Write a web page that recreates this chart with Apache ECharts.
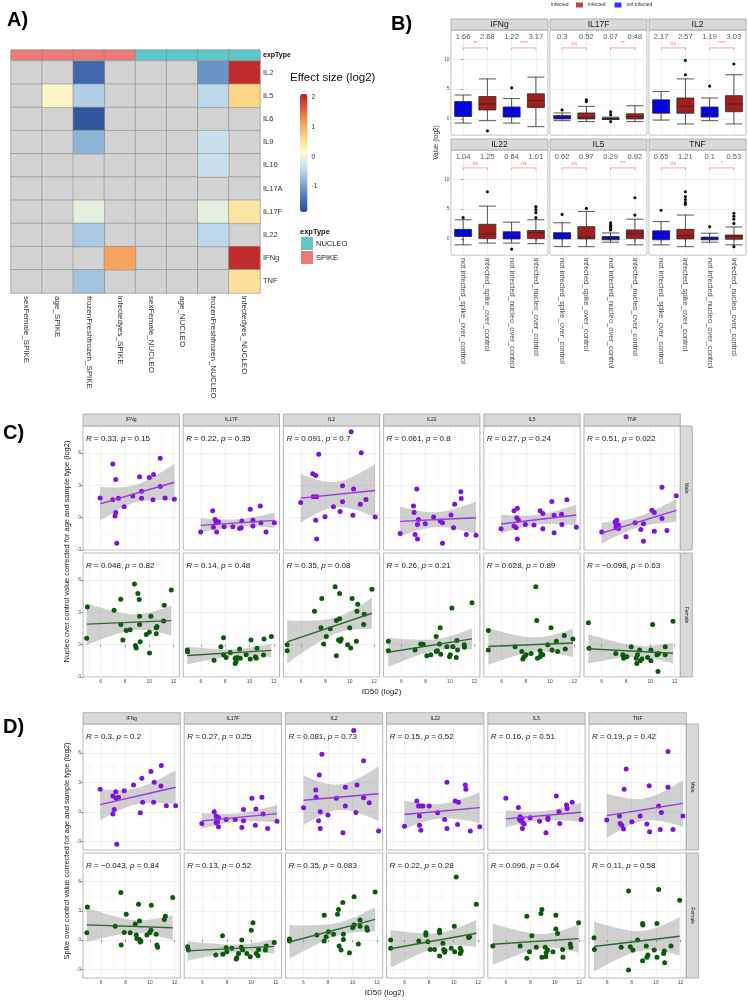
<!DOCTYPE html>
<html>
<head>
<meta charset="utf-8">
<script src="https://cdn.jsdelivr.net/npm/echarts@6.0.0/dist/echarts.min.js"></script>
<style>html,body{margin:0;padding:0;background:#fff;}#chart{width:748px;height:1000px;}</style>
</head>
<body>
<div id="chart"></div>
<script>
// ================= DATA =================
// ---- Panel A: effect sizes (log2); null = not significant (grey) ----
const heatRows = ['IL2','IL5','IL6','IL9','IL10','IL17A','IL17F','IL22','IFNg','TNF'];
const heatCols = ['sexFemale_SPIKE','age_SPIKE','frozenFreshfrozen_SPIKE','infectedyes_SPIKE','sexFemale_NUCLEO','age_NUCLEO','frozenFreshfrozen_NUCLEO','infectedyes_NUCLEO'];
const colTypes = ['SPIKE','SPIKE','SPIKE','SPIKE','NUCLEO','NUCLEO','NUCLEO','NUCLEO'];
const effIL2   = [null,null,-1.55,null,null,null,-1.1,2.0];
const effIL5   = [null,0.2,-0.55,null,null,null,-0.45,0.65];
const effIL6   = [null,null,-1.75,null,null,null,null,null];
const effIL9   = [null,null,-0.8,null,null,null,-0.35,null];
const effIL10  = [null,null,null,null,null,null,-0.35,null];
const effIL17A = [null,null,null,null,null,null,null,null];
const effIL17F = [null,null,-0.1,null,null,null,-0.1,0.45];
const effIL22  = [null,null,-0.6,null,null,null,-0.45,null];
const effIFNg  = [null,null,null,1.1,null,null,null,2.0];
const effTNF   = [null,null,-0.65,null,null,null,null,0.5];
const effectRows = [effIL2,effIL5,effIL6,effIL9,effIL10,effIL17A,effIL17F,effIL22,effIFNg,effTNF];
const colorbarTicks = [2,1,0,-1];

// ---- Panel B: boxplots [min, Q1, median, Q3, max] ----
const bCyto = ['IFNg','IL17F','IL2','IL22','IL5','TNF'];
const boxGroups = ['not infected_spike_over_control','infected_spike_over_control','not infected_nucleo_over_control','infected_nucleo_over_control'];
const groupStatus = ['not infected','infected','not infected','infected'];
const bYTicks = [0,5,10];
const boxIFNg  = [[-0.7,0.4,1.35,2.9,4.0],[-0.3,1.5,2.5,3.75,6.7],[-0.7,0.3,0.85,2.0,3.4],[-1.3,1.9,3.1,4.2,7.0]];
const boxIL17F = [[-0.3,0.0,0.3,0.55,1.0],[-0.45,0.0,0.25,1.0,2.1],[-0.1,-0.05,0.05,0.15,0.3],[-0.45,0.0,0.4,0.85,2.2]];
const boxIL2   = [[-0.2,0.95,2.35,3.2,4.6],[-0.85,0.95,2.1,3.5,6.7],[-0.3,0.3,0.95,2.0,3.5],[-0.85,1.2,2.5,3.9,7.4]];
const boxIL22  = [[-1.0,0.4,0.95,1.6,3.2],[-0.7,0.05,0.8,2.45,5.5],[-0.7,0.0,0.8,1.2,2.8],[-0.8,0.05,1.05,1.4,3.2]];
const boxIL5   = [[-1.3,0.0,0.55,1.05,2.7],[-1.3,0.0,0.3,2.05,4.6],[-0.55,-0.15,0.1,0.4,1.0],[-1.0,0.05,0.85,1.5,3.3]];
const boxTNF   = [[-1.0,-0.15,0.55,1.35,2.9],[-1.3,0.0,0.55,1.6,4.0],[-0.55,-0.15,0.0,0.3,0.95],[-1.0,-0.05,0.4,0.65,2.0]];
const outIFNg  = [[1,-2.0],[2,5.2]];
const outIL17F = [[0,1.5],[1,3.2],[1,2.9],[2,1.2],[2,0.7],[2,-0.45]];
const outIL2   = [[1,7.4],[1,9.8],[2,5.5],[3,9.2]];
const outIL22  = [[0,3.55],[1,7.9],[2,-1.7],[3,3.55],[3,4.4],[3,4.9],[3,5.4]];
const outIL5   = [[0,4.1],[1,5.1],[2,1.5],[2,1.8],[2,2.05],[2,2.3],[2,2.7],[3,4.0],[3,6.9]];
const outTNF   = [[0,4.8],[1,5.8],[1,6.1],[1,6.6],[1,7.1],[1,7.9],[2,2.05],[3,2.6],[3,3.3],[3,3.8],[3,4.3],[3,-1.3]];
const meanIFNg = [1.66,2.68,1.22,3.17];
const meanIL17F= [0.3,0.52,0.07,0.48];
const meanIL2  = [2.17,2.57,1.19,3.03];
const meanIL22 = [1.04,1.25,0.64,1.01];
const meanIL5  = [0.62,0.97,0.29,0.92];
const meanTNF  = [0.65,1.21,0.1,0.53];
const sigIFNg = ['**','****'], sigIL17F = ['ns','**'], sigIL2 = ['ns','****'];
const sigIL22 = ['ns','ns'], sigIL5 = ['ns','***'], sigTNF = ['ns','*'];

// ---- Panels C / D: [ID50 (log2), value] ----
const facetCyto = ['IFNg','IL17F','IL2','IL22','IL5','TNF'];
const facetXTicks = [6,8,10,12];
const facetYTicks = [-3,0,3,6];
const cIFNgM = [[5.95,1.83],[6.99,1.67],[6.99,4.98],[7.24,3.53],[7.24,0.47],[7.18,0.16],[7.46,1.8],[7.32,-2.37],[7.93,1.0],[8.64,2.0],[9.2,3.79],[9.36,2.46],[9.36,1.8],[10.0,3.72],[10.3,1.67],[10.35,4.0],[10.9,5.5],[10.9,2.9],[11.3,1.83],[12.06,1.7]];
const cIL17FM = [[5.98,-1.34],[6.97,0.63],[7.16,-0.16],[7.25,-0.47],[7.03,-0.88],[7.3,-1.34],[7.44,-0.38],[7.91,-0.84],[8.63,-0.84],[9.18,-1.0],[9.32,-0.94],[9.37,-0.31],[10.06,0.78],[10.28,-0.25],[10.28,-0.78],[10.89,1.09],[10.94,-0.47],[11.36,-1.34],[12.05,-0.47]];
const cIL2M = [[5.96,1.41],[6.95,4.06],[7.2,3.9],[7.0,1.94],[7.28,1.94],[7.45,5.88],[7.2,-0.25],[7.28,-1.97],[7.97,0.09],[8.66,1.0],[9.21,0.56],[9.41,2.97],[9.41,1.47],[10.12,7.97],[10.26,0.22],[10.32,2.66],[10.87,1.25],[10.95,6.03],[11.34,1.69],[12.1,0.06]];
const cIL22M = [[5.9,-1.47],[7.0,1.09],[7.05,0.47],[7.27,2.66],[7.13,-1.56],[7.33,-1.97],[7.41,-0.16],[7.33,-0.63],[7.97,-0.56],[8.66,0.06],[9.2,-0.31],[9.39,-0.47],[9.39,-2.38],[10.09,0.25],[10.3,-0.94],[10.39,1.25],[10.9,2.41],[10.93,1.78],[11.35,-1.56],[12.15,-1.63]];
const cIL5M = [[5.96,-1.03],[7.03,0.63],[7.3,0.88],[7.25,0.0],[7.39,-0.22],[7.03,-0.78],[7.2,-0.94],[7.3,-1.97],[7.96,-0.63],[8.67,-0.69],[9.18,0.63],[9.4,0.38],[9.4,-1.03],[10.14,1.5],[10.33,-1.41],[10.33,0.22],[10.94,0.31],[10.97,-0.63],[11.38,1.66],[12.16,-0.88]];
const cTNFM = [[6.0,-1.34],[7.1,-0.38],[7.24,-0.25],[7.18,-0.69],[7.29,-0.88],[7.38,-0.69],[7.38,-1.0],[7.18,-0.94],[8.0,-1.78],[8.75,-0.47],[9.22,-1.09],[9.44,-0.56],[9.44,-2.19],[10.13,0.69],[10.33,-1.25],[10.33,0.47],[10.96,2.81],[10.96,-0.09],[11.37,-1.19],[12.14,2.03]];
const cIFNgF = [[4.9,3.5],[4.84,0.59],[7.1,3.19],[7.65,4.22],[7.65,1.88],[7.82,0.44],[8.1,1.31],[8.42,1.38],[8.78,5.63],[8.86,-0.09],[8.92,-0.31],[9.06,4.75],[9.17,4.19],[9.2,2.63],[9.2,1.88],[9.25,0.28],[9.75,0.94],[10.0,1.16],[10.02,-0.78],[10.13,2.63],[10.57,1.56],[10.57,1.0],[10.63,1.69],[11.18,2.19],[11.23,3.66],[11.81,5.06]];
const cIL17FF = [[4.88,-0.5],[4.9,-0.66],[7.08,-1.44],[7.64,-0.19],[7.86,0.63],[7.86,-0.94],[8.07,-1.19],[8.41,-0.72],[8.82,-1.25],[8.82,-1.75],[8.9,-1.56],[9.01,-1.19],[9.18,-0.41],[9.24,-1.25],[9.73,-0.94],[10.06,-1.34],[10.12,0.44],[10.48,-1.13],[10.61,-0.34],[10.56,-1.25],[11.16,-0.97],[11.2,0.53],[11.8,0.75]];
const cIL2F = [[4.85,0.0],[4.85,-0.56],[7.1,3.1],[7.7,4.28],[7.63,1.56],[7.85,0.06],[8.07,0.75],[8.4,1.47],[8.8,5.38],[8.9,2.25],[9.17,4.75],[9.17,2.4],[9.08,0.44],[9.22,0.31],[9.3,0.53],[8.9,-1.03],[9.83,0.0],[10.0,1.56],[10.08,-0.31],[10.2,4.28],[10.55,0.31],[10.6,3.09],[10.66,3.75],[11.15,1.88],[11.2,2.81],[11.83,5.13]];
const cIL22F = [[4.93,0.31],[4.93,-0.56],[7.13,-0.5],[7.6,0.06],[7.75,0.0],[7.8,0.03],[8.1,-1.03],[8.43,-0.94],[8.87,0.75],[8.87,-0.63],[8.97,-0.56],[9.14,0.06],[9.2,1.56],[9.25,-0.88],[9.75,-0.19],[9.97,-1.13],[10.03,-0.94],[10.16,3.41],[10.25,-0.19],[10.52,-1.19],[10.58,0.38],[10.63,-0.5],[11.18,0.0],[11.2,-0.25],[11.82,3.88]];
const cIL5F = [[4.91,1.31],[4.91,-0.5],[7.12,-0.19],[7.67,-0.63],[7.75,-1.34],[7.86,-1.13],[8.02,-0.94],[8.43,-0.81],[8.82,5.38],[8.9,2.25],[8.96,-1.25],[9.18,-0.56],[9.18,-1.13],[9.26,-0.88],[9.4,-0.94],[9.8,0.0],[10.07,1.56],[10.16,-0.5],[10.51,0.31],[10.62,-0.63],[11.17,0.84],[11.25,-0.41],[11.88,0.53]];
const cTNFF = [[4.9,2.03],[4.95,-0.34],[7.16,-0.81],[7.74,-0.94],[7.8,-1.25],[8.07,-1.13],[8.43,-0.19],[8.84,-1.25],[8.89,-1.75],[8.95,-0.94],[9.12,-0.5],[9.17,-1.5],[9.31,-1.34],[9.78,-1.19],[10.05,-0.5],[10.05,-1.5],[10.19,1.88],[10.55,-0.94],[10.63,-2.5],[10.68,-0.81],[11.23,-0.19],[11.23,-0.94],[11.87,2.16]];
const dIFNgM = [[5.92,2.29],[6.96,1.6],[7.07,0.24],[6.96,-0.24],[7.2,2.05],[7.23,1.37],[7.42,1.47],[7.28,-3.31],[7.89,2.15],[8.65,2.73],[9.33,3.41],[9.39,0.96],[9.2,-0.1],[10.07,4.1],[10.34,3.0],[10.29,0.96],[10.92,4.71],[10.89,2.63],[11.33,0.61],[12.09,0.61]];
const dIL17FM = [[5.96,-1.19],[6.97,0.0],[7.13,-0.44],[7.19,-0.78],[7.24,-1.02],[7.32,-1.54],[7.13,-1.13],[7.32,-0.58],[7.95,-0.78],[8.69,-0.78],[9.23,-1.6],[9.37,0.24],[9.37,-0.92],[10.05,1.37],[10.33,-1.37],[10.38,0.27],[10.87,1.47],[10.96,-0.24],[11.34,-1.71],[12.1,-0.96]];
const dIL2M = [[6.0,0.41],[7.0,2.22],[7.03,1.47],[7.29,3.75],[7.37,0.0],[7.23,-0.92],[7.37,-1.71],[7.5,5.87],[8.0,-0.34],[8.68,1.37],[9.22,-2.15],[9.42,2.49],[9.42,0.58],[10.1,8.29],[10.28,-0.07],[10.37,2.73],[10.91,5.19],[10.91,1.43],[11.37,0.92],[12.13,-1.95]];
const dIL22M = [[5.98,-1.47],[6.99,1.09],[7.13,0.58],[7.2,-0.44],[7.26,0.58],[7.48,0.58],[7.2,-1.37],[7.32,-1.88],[8.0,0.58],[8.69,-0.1],[9.26,-0.78],[9.45,3.0],[9.45,-1.71],[10.13,1.09],[10.32,-1.3],[10.4,0.96],[10.95,2.73],[11.0,2.29],[11.36,-1.95],[12.13,-1.54]];
const dIL5M = [[5.99,1.37],[7.02,0.44],[7.1,-0.78],[7.16,-0.51],[7.21,-0.92],[7.3,-0.68],[7.35,-1.71],[7.49,-1.26],[7.38,-1.13],[7.98,-0.61],[8.75,-0.96],[9.27,-2.15],[9.43,-0.78],[9.43,-0.61],[10.12,1.6],[10.34,0.0],[10.4,-1.19],[10.95,0.68],[11.0,0.34],[11.41,0.96],[12.15,-0.78]];
const dTNFM = [[5.97,-0.85],[7.01,-0.44],[7.07,-1.19],[7.2,-1.37],[7.34,-1.77],[7.39,2.29],[7.56,4.37],[8.02,-1.02],[8.7,-0.44],[9.25,-1.26],[9.44,2.66],[9.47,-2.05],[10.21,0.58],[10.34,-1.81],[10.43,-0.07],[10.97,6.14],[10.97,2.49],[11.38,-1.81],[12.2,-0.44]];
const dIFNgF = [[4.88,3.41],[4.83,0.75],[7.15,1.43],[7.61,4.88],[7.64,-0.51],[7.89,0.78],[8.05,2.66],[8.38,0.75],[8.79,1.64],[8.87,0.51],[8.92,0.17],[9.06,3.69],[9.14,1.95],[9.14,0.07],[9.25,-0.1],[9.2,-0.2],[9.74,0.51],[9.96,0.75],[10.1,3.58],[10.07,1.02],[10.5,0.61],[10.56,-0.51],[10.62,-0.75],[11.16,2.12],[11.25,2.46],[11.85,4.37]];
const dIL17FF = [[4.8,-0.68],[4.86,-1.02],[7.1,-1.54],[7.65,0.44],[7.68,-1.47],[7.95,-0.78],[8.0,-1.19],[8.41,-0.85],[8.77,-1.95],[8.82,-1.81],[8.96,-1.37],[9.18,-0.75],[9.23,0.0],[9.29,-1.02],[9.64,-1.37],[9.92,-1.71],[10.0,1.02],[10.14,1.77],[10.41,-1.37],[10.55,-1.6],[10.6,-0.96],[11.15,-1.02],[11.23,-0.61],[11.88,-0.24]];
const dIL2F = [[4.85,0.1],[4.85,-0.1],[7.09,0.51],[7.69,2.56],[7.69,-0.1],[7.85,0.34],[8.04,0.85],[8.45,0.61],[8.78,2.66],[8.86,3.14],[8.91,-0.61],[9.07,-1.02],[9.21,3.86],[9.26,0.61],[9.26,0.07],[9.75,-1.3],[10.02,1.26],[10.13,4.44],[10.13,1.54],[10.48,-0.41],[10.62,1.43],[10.62,2.05],[11.17,1.3],[11.22,1.02],[11.85,4.95]];
const dIL22F = [[4.85,0.0],[4.85,-0.85],[7.15,-0.1],[7.73,0.75],[7.73,0.51],[7.89,-0.17],[8.08,-0.96],[8.44,-0.96],[8.85,1.02],[8.85,0.75],[8.85,-1.64],[9.12,-0.34],[9.18,-0.96],[9.26,-1.26],[9.3,-1.1],[9.8,-0.85],[10.05,1.43],[10.08,-1.19],[10.21,6.48],[10.54,-0.85],[10.54,-1.37],[10.62,-1.13],[11.22,0.27],[11.3,0.34],[11.85,3.69]];
const dIL5F = [[4.93,-0.61],[7.16,-0.61],[7.71,2.46],[7.71,-1.88],[7.93,-1.19],[8.12,0.44],[8.48,-0.75],[8.86,2.73],[8.94,3.14],[8.94,-1.77],[9.21,-0.75],[9.29,-1.3],[9.26,-1.71],[9.4,-1.02],[9.84,-1.19],[10.08,2.56],[10.08,1.13],[10.22,0.68],[10.63,-0.96],[10.66,-1.77],[11.26,-0.41],[11.31,-0.75],[11.94,1.77]];
const dTNFF = [[4.93,0.24],[4.96,-0.96],[7.15,-0.75],[7.75,5.05],[7.75,-3.07],[7.89,-0.68],[8.1,-1.02],[8.49,0.0],[8.9,1.71],[8.92,1.54],[8.9,-2.12],[9.2,-0.61],[9.25,-1.77],[9.33,-1.54],[9.85,-1.02],[10.07,1.71],[10.07,-1.77],[10.21,5.19],[10.62,-1.37],[10.67,-1.13],[10.7,-2.32],[11.22,-0.61],[11.93,4.1]];
const cRM = ['0.33','0.22','0.091','0.061','0.27','0.51'], cPM = ['0.15','0.35','0.7','0.8','0.24','0.022'];
const cRF = ['0.048','0.14','0.35','0.26','0.028','\u22120.098'], cPF = ['0.82','0.48','0.08','0.21','0.89','0.63'];
const dRM = ['0.3','0.27','0.081','0.15','0.16','0.19'], dPM = ['0.2','0.25','0.73','0.52','0.51','0.42'];
const dRF = ['\u22120.043','0.13','0.35','0.22','0.096','0.11'], dPF = ['0.84','0.52','0.083','0.28','0.64','0.58'];

// ================= BUILD =================
const FONT = '"Liberation Sans", Arial, Helvetica, sans-serif';
const grids = [], xAxes = [], yAxes = [], series = [], graphics = [];
function addText(x, y, text, st, rot) {
  const el = {type:'text', x:x, y:y, silent:true, z:10,
    style:Object.assign({text:text, fill:'#1a1a1a', fontSize:8, fontFamily:FONT, align:'left', verticalAlign:'middle'}, st || {})};
  if (rot) el.rotation = rot;
  graphics.push(el);
}
function addRect(x, y, w, h, fill, stroke) {
  graphics.push({type:'rect', silent:true, z:5, shape:{x:x, y:y, width:w, height:h},
    style:{fill:fill, stroke:stroke || null, lineWidth:stroke ? 0.8 : 0}});
}
const GRIDLINE = {show:true, lineStyle:{color:'#ebebeb', width:0.7}};
const MINORLINE = {show:true, lineStyle:{color:'#f3f3f3', width:0.5}};
const BORDER = '#a3a3a3';

// ---------- Panel A ----------
const aLeft = 11, aTop = 61, aW = 249, aH = 232, annTop = 50, annH = 10;
const typeColor = {SPIKE:'#ec7a76', NUCLEO:'#5ec7ca'};
grids.push({left:aLeft, top:annTop, width:aW, height:annH, outerBoundsMode:'none'});
xAxes.push({type:'category', gridIndex:0, data:heatCols, show:false});
yAxes.push({type:'category', gridIndex:0, data:['expType'], position:'right', axisLine:{show:false}, axisTick:{show:false}, splitLine:{show:false},
  axisLabel:{fontSize:7, fontWeight:'bold', color:'#111', margin:3, fontFamily:FONT}});
['SPIKE','NUCLEO'].forEach(function (t) {
  series.push({type:'heatmap', xAxisIndex:0, yAxisIndex:0, silent:true,
    data: colTypes.map(function (ct, i) { return ct === t ? [i, 0, 1] : null; }).filter(function (d) { return d; }),
    itemStyle:{color:typeColor[t], borderColor:'#8a8a8a', borderWidth:0.6}});
});
grids.push({left:aLeft, top:aTop, width:aW, height:aH, outerBoundsMode:'none'});
xAxes.push({type:'category', gridIndex:1, data:heatCols, position:'bottom', axisLine:{show:false}, axisTick:{show:false}, splitLine:{show:false},
  axisLabel:{rotate:-90, fontSize:8, color:'#333', margin:3, fontFamily:FONT}});
yAxes.push({type:'category', gridIndex:1, data:heatRows, inverse:true, position:'right', axisLine:{show:false}, axisTick:{show:false}, splitLine:{show:false},
  axisLabel:{fontSize:7.5, color:'#333', margin:3, fontFamily:FONT}});
const naCells = [], valCells = [];
effectRows.forEach(function (row, r) { row.forEach(function (v, c) { if (v === null) naCells.push([c, r, 0]); else valCells.push([c, r, v]); }); });
series.push({type:'heatmap', xAxisIndex:1, yAxisIndex:1, silent:true, data:naCells, itemStyle:{color:'#d3d3d3', borderColor:'#8a8a8a', borderWidth:0.6}});
const heatSeriesIndex = series.length;
series.push({type:'heatmap', xAxisIndex:1, yAxisIndex:1, silent:true, data:valCells, itemStyle:{borderColor:'#8a8a8a', borderWidth:0.6}});
const cbMin = -1.85, cbMax = 2.1, cbLeft = 300, cbTop = 94, cbH = 118, cbW = 7.5;
colorbarTicks.forEach(function (v) {
  addText(cbLeft + cbW + 4, cbTop + (cbMax - v) / (cbMax - cbMin) * cbH, String(v), {fontSize:6.5, fill:'#333'});
});
addText(290, 78, 'Effect size (log2)', {fontSize:11.5, fill:'#111'});
addText(300, 232, 'expType', {fontSize:7.5, fontWeight:'bold', fill:'#111'});
addRect(301, 237, 12, 13, typeColor.NUCLEO);
addRect(301, 251, 12, 13, typeColor.SPIKE);
addText(316, 244, 'NUCLEO', {fontSize:7.5, fill:'#222'});
addText(316, 257.5, 'SPIKE', {fontSize:7.5, fill:'#222'});
addText(7, 20, 'A)', {fontSize:20, fontWeight:'bold', fill:'#000'});

// ---------- Panel B ----------
const bBoxes = [boxIFNg, boxIL17F, boxIL2, boxIL22, boxIL5, boxTNF];
const bOut = [outIFNg, outIL17F, outIL2, outIL22, outIL5, outTNF];
const bMeans = [meanIFNg, meanIL17F, meanIL2, meanIL22, meanIL5, meanTNF];
const bSig = [sigIFNg, sigIL17F, sigIL2, sigIL22, sigIL5, sigTNF];
const statusColor = {'infected':'#a31d1d', 'not infected':'#0000fa'};
const bLefts = [451, 550, 649], bTops = [30, 150], bW = 97, bH = 105, bStripH = 11;
const bYmin = -2.7, bYmax = 14.9, bMeanY = 13.8, bBrY = 11.9, bBrTick = 0.35, bSigY = 12.7;
let bFirstX = null, bFirstY = null;
for (let k = 0; k < 6; k++) {
  const col = k % 3, row = Math.floor(k / 3), left = bLefts[col], top = bTops[row];
  grids.push({left:left, top:top, width:bW, height:bH, show:true, borderColor:BORDER, borderWidth:0.8, backgroundColor:'#fff', outerBoundsMode:'none'});
  const g = grids.length - 1;
  xAxes.push({type:'category', gridIndex:g, data:boxGroups, axisLine:{show:false},
    axisTick:{show:row === 1, alignWithLabel:true, length:2, lineStyle:{color:'#444', width:0.6}},
    axisLabel:{show:row === 1, rotate:-90, fontSize:7.5, color:'#4d4d4d', margin:3, fontFamily:FONT}, splitLine:{show:false}});
  const xc = xAxes.length - 1;
  xAxes.push({type:'value', gridIndex:g, min:-0.5, max:3.5, position:'top', axisLine:{show:false}, axisTick:{show:false}, axisLabel:{show:false}, splitLine:GRIDLINE});
  const xv = xAxes.length - 1;
  yAxes.push({type:'value', gridIndex:g, min:bYmin, max:bYmax, splitNumber:3, axisLine:{show:false},
    axisTick:{show:col === 0, length:2, customValues:bYTicks, lineStyle:{color:'#444', width:0.6}},
    axisLabel:{show:col === 0, fontSize:5, color:'#4d4d4d', margin:1.5, fontFamily:FONT, customValues:bYTicks,
      formatter:function (v) { return Math.abs(v % 5) < 1e-9 ? String(v) : ''; }},
    splitLine:GRIDLINE, minorTick:{show:false, splitNumber:2}, minorSplitLine:MINORLINE});
  const yi = yAxes.length - 1;
  if (k === 0) { bFirstX = xc; bFirstY = yi; }
  series.push({type:'boxplot', xAxisIndex:xc, yAxisIndex:yi, silent:true, boxWidth:[17, 17],
    itemStyle:{borderColor:'#333', borderWidth:0.8},
    data: bBoxes[k].map(function (b, i) { return {value:b, itemStyle:{color:statusColor[groupStatus[i]], borderColor:'#2a2a2a', borderWidth:0.8}}; })});
  series.push({type:'scatter', xAxisIndex:xc, yAxisIndex:yi, silent:true, symbolSize:3.2, itemStyle:{color:'#111', opacity:1}, data:bOut[k]});
  series.push({type:'scatter', xAxisIndex:xc, yAxisIndex:yi, silent:true, symbolSize:0,
    data: bMeans[k].map(function (m, i) { return [i, bMeanY]; }),
    label:{show:true, position:'inside', fontSize:7.5, color:'#333', fontFamily:FONT,
      formatter:(function (arr) { return function (p) { return String(arr[p.dataIndex]); }; })(bMeans[k])}});
  [[0, 1], [2, 3]].forEach(function (pr) {
    series.push({type:'line', xAxisIndex:xv, yAxisIndex:yi, silent:true, symbol:'none',
      data:[[pr[0], bBrY - bBrTick], [pr[0], bBrY], [pr[1], bBrY], [pr[1], bBrY - bBrTick]],
      lineStyle:{color:'#f08585', width:0.7}});
  });
  series.push({type:'scatter', xAxisIndex:xv, yAxisIndex:yi, silent:true, symbolSize:0,
    data:[[0.5, bSigY], [2.5, bSigY]],
    label:{show:true, position:'inside', fontSize:5, color:'#ea4b4b', fontFamily:FONT,
      formatter:(function (arr) { return function (p) { return arr[p.dataIndex]; }; })(bSig[k])}});
  addRect(left, top - bStripH, bW, bStripH, '#d9d9d9', BORDER);
  addText(left + bW / 2, top - bStripH / 2, bCyto[k], {fontSize:8.5, align:'center'});
}
series.push({type:'scatter', name:'infected', xAxisIndex:bFirstX, yAxisIndex:bFirstY, data:[], itemStyle:{color:statusColor['infected']}});
series.push({type:'scatter', name:'not infected', xAxisIndex:bFirstX, yAxisIndex:bFirstY, data:[], itemStyle:{color:statusColor['not infected']}});
addText(551, 5, 'infected', {fontSize:5, fill:'#333'});
addText(436, 142.5, 'Value (log2)', {fontSize:6.5, align:'center', fill:'#333'}, Math.PI / 2);
addText(391, 24, 'B)', {fontSize:20, fontWeight:'bold', fill:'#000'});

// ---------- Panels C & D ----------
function tq(df) { return 1.96 + 2.4 / df + 2.6 / (df * df); }
function lmFit(pts) {
  const N = pts.length; let mx = 0, my = 0;
  pts.forEach(function (p) { mx += p[0]; my += p[1]; }); mx /= N; my /= N;
  let sxx = 0, sxy = 0;
  pts.forEach(function (p) { sxx += (p[0] - mx) * (p[0] - mx); sxy += (p[0] - mx) * (p[1] - my); });
  const b = sxy / sxx, a = my - b * mx;
  let sse = 0; pts.forEach(function (p) { const e = p[1] - a - b * p[0]; sse += e * e; });
  const s = Math.sqrt(sse / (N - 2)), t = tq(N - 2);
  const xs = pts.map(function (p) { return p[0]; });
  const x0 = Math.min.apply(null, xs), x1 = Math.max.apply(null, xs);
  const upper = [], lower = [];
  for (let i = 0; i <= 60; i++) {
    const x = x0 + (x1 - x0) * i / 60, yh = a + b * x;
    const se = s * Math.sqrt(1 / N + (x - mx) * (x - mx) / sxx);
    upper.push([x, yh + t * se]); lower.push([x, yh - t * se]);
  }
  return {line:[[x0, a + b * x0], [x1, a + b * x1]], upper:upper, lower:lower};
}
const rowStyle = [{pt:'#8012de', ln:'#9b35e3'}, {pt:'#0c5a0c', ln:'#2d6a2d'}];
function buildFacets(P) {
  const rowNames = ['Male', 'Female'];
  for (let r = 0; r < 2; r++) {
    for (let c = 0; c < 6; c++) {
      const left = P.left0 + c * P.step, top = P.rows[r][0], h = P.rows[r][1];
      grids.push({left:left, top:top, width:P.w, height:h, show:true, borderColor:BORDER, borderWidth:0.8, backgroundColor:'#fff', outerBoundsMode:'none'});
      const g = grids.length - 1;
      xAxes.push({type:'value', gridIndex:g, min:P.xmin, max:P.xmax, splitNumber:5, axisLine:{show:false},
        axisTick:{show:r === 1, length:2, customValues:facetXTicks, lineStyle:{color:'#444', width:0.6}},
        axisLabel:{show:r === 1, fontSize:5, color:'#4d4d4d', margin:2, fontFamily:FONT, customValues:facetXTicks,
          formatter:function (v) { return (Math.abs(v - Math.round(v)) < 1e-9 && Math.round(v) % 2 === 0) ? String(v) : ''; }},
        splitLine:GRIDLINE, minorTick:{show:false, splitNumber:2}, minorSplitLine:MINORLINE});
      const xi = xAxes.length - 1;
      const ya = {type:'value', gridIndex:g, min:P.ymin, max:P.ymax, splitNumber:4, axisLine:{show:false},
        axisTick:{show:c === 0, length:2, customValues:facetYTicks, lineStyle:{color:'#444', width:0.6}},
        axisLabel:{show:c === 0, fontSize:5, color:'#4d4d4d', margin:2, fontFamily:FONT, customValues:facetYTicks,
          formatter:function (v) { return Math.abs(v % 3) < 1e-9 ? String(Math.round(v)) : ''; }},
        splitLine:GRIDLINE, minorTick:{show:false, splitNumber:2}, minorSplitLine:MINORLINE};
      if (P.yInterval) ya.interval = P.yInterval;
      yAxes.push(ya);
      const yi = yAxes.length - 1;
      const pts = P.data[r][c];
      const fit = lmFit(pts);
      series.push({type:'custom', xAxisIndex:xi, yAxisIndex:yi, silent:true, clip:true,
        data:[fit.line[0]], encode:{x:0, y:1},
        renderItem:(function (f) { return function (params, api) {
          const poly = f.upper.map(function (p) { return api.coord(p); })
            .concat(f.lower.slice().reverse().map(function (p) { return api.coord(p); }));
          return {type:'polygon', shape:{points:poly}, style:{fill:'rgba(150,150,150,0.45)'}};
        }; })(fit)});
      series.push({type:'line', xAxisIndex:xi, yAxisIndex:yi, silent:true, symbol:'none', data:fit.line,
        lineStyle:{color:rowStyle[r].ln, width:1.4}});
      series.push({type:'scatter', xAxisIndex:xi, yAxisIndex:yi, silent:true, symbolSize:5, data:pts,
        itemStyle:{color:rowStyle[r].pt, opacity:1}});
      const rv = P.R[r][c], pv = P.p[r][c];
      addText(left + 3, top + 12.5, '{i|R} = ' + rv + ', {i|p} = ' + pv,
        {fontSize:8, fill:'#222', rich:{i:{fontStyle:'italic', fontSize:8, fontFamily:FONT, fill:'#222'}}});
      if (r === 0) {
        addRect(left, P.stripTop, P.w, P.stripH, '#d9d9d9', BORDER);
        addText(left + P.w / 2, P.stripTop + P.stripH / 2, facetCyto[c], {fontSize:5, align:'center'});
      }
    }
    const xr = P.left0 + 5 * P.step + P.w;
    addRect(xr, P.rows[r][0], 12, P.rows[r][1], '#d9d9d9', BORDER);
    addText(xr + 6, P.rows[r][0] + P.rows[r][1] / 2, rowNames[r], {fontSize:5, align:'center'}, -Math.PI / 2);
  }
  const yMid = (P.rows[0][0] + P.rows[1][0] + P.rows[1][1]) / 2;
  addText(67, yMid, P.ytitle, {fontSize:7.5, align:'center', fill:'#222'}, Math.PI / 2);
  const xMid = (P.left0 + P.left0 + 5 * P.step + P.w) / 2;
  addText(xMid, P.xTitleY, 'ID50 (log2)', {fontSize:8, align:'center', fill:'#222'});
  addText(3, P.labelY, P.label, {fontSize:20, fontWeight:'bold', fill:'#000'});
}
buildFacets({left0:83, step:100.2, w:96.3, rows:[[426, 124], [553, 124]], stripTop:414, stripH:12,
  xmin:4.54, xmax:12.47, ymin:-3, ymax:8.5, yInterval:3, xTitleY:692, labelY:433, label:'C)',
  data:[[cIFNgM, cIL17FM, cIL2M, cIL22M, cIL5M, cTNFM], [cIFNgF, cIL17FF, cIL2F, cIL22F, cIL5F, cTNFF]],
  R:[cRM, cRF], p:[cPM, cPF],
  ytitle:'Nucleo over control value corrected for age and sample type (log2)'});
buildFacets({left0:83, step:101.2, w:97.3, rows:[[724, 126], [853, 125]], stripTop:712.7, stripH:11.3,
  xmin:4.52, xmax:12.47, ymin:-3.9, ymax:8.95, yInterval:null, xTitleY:993, labelY:727, label:'D)',
  data:[[dIFNgM, dIL17FM, dIL2M, dIL22M, dIL5M, dTNFM], [dIFNgF, dIL17FF, dIL2F, dIL22F, dIL5F, dTNFF]],
  R:[dRM, dRF], p:[dPM, dPF],
  ytitle:'Spike over control value corrected for age and sample type (log2)'});

const option = {
  animation:false, backgroundColor:'#fff',
  grid:grids, xAxis:xAxes, yAxis:yAxes, series:series,
  graphic:{elements:graphics},
  visualMap:[{type:'continuous', seriesIndex:heatSeriesIndex, min:cbMin, max:cbMax, orient:'vertical',
    left:cbLeft, top:cbTop, itemWidth:cbW, itemHeight:cbH, padding:0, calculable:false, hoverLink:false, text:null,
    inRange:{color:['#2c4f9c','#4a78b5','#86afd5','#c8e0ee','#fbfbcf','#fbd98a','#f6a35f','#e0603c','#b71f29']}}],
  legend:{data:[{name:'infected', icon:'rect'}, {name:'not infected', icon:'rect'}], left:576, top:2.5,
    itemWidth:7, itemHeight:5, itemGap:9, padding:0, selectedMode:false,
    textStyle:{fontSize:5, color:'#333', fontFamily:FONT}}
};
const chart = echarts.init(document.getElementById('chart'), null, {renderer:'canvas', width:748, height:1000});
chart.setOption(option);
</script>
</body>
</html>
